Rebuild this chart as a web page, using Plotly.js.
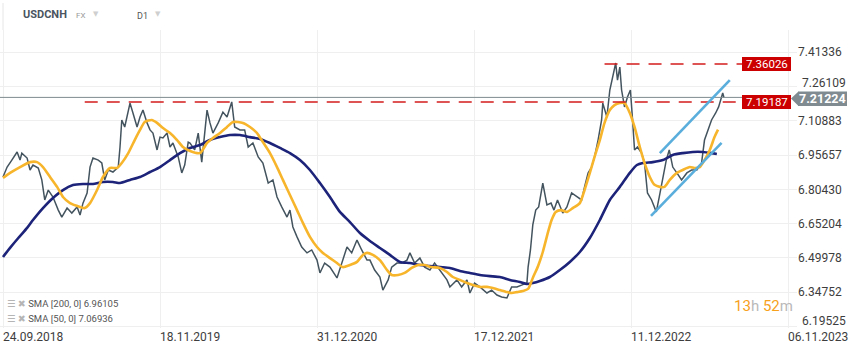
<!DOCTYPE html>
<html><head><meta charset="utf-8">
<script src="https://cdn.plot.ly/plotly-3.0.1.min.js"></script>
<style>html,body{margin:0;padding:0;background:#fff;} #chart{width:859px;height:352px;}</style>
</head><body><div id="chart"></div>
<script>
// ---- data (bar index = trading-day position on the chart) ----
const priceBars = [
0,7,15,24,29,32,41,46,51,60,
66,71,77,85,94,100,109,117,126,131,
136,143,148,153,162,168,173,179,187,196,
199,202,207,213,216,221,228,233,238,245,
250,255,262,267,272,279,284,289,298,304,
309,315,318,326,332,338,343,347,352,357,
366,374,381,386,389,394,403,411,417,425,
434,442,451,459,466,474,483,488,493,500,
508,517,525,534,539,547,556,568,576,585,
593,602,610,619,624,632,641,646,655,661,
670,678,687,692,700,709,717,726,734,743,
755,760,772,780,789,794,802,811,823,831,
840,848,857,865,874,882,891,893,897,901,
906,911,918,925,932,937,943,952,959,967,
976,984,989,995,1001,1006,1012,1018,1020,1027,
1032,1037,1042,1045,1049,1052,1057,1062,1067,1071,
1074,1079,1086,1091,1096,1103,1111,1116,1122,1128,
1133,1139,1146,1154,1163,1171,1180,1188,1193,1199,
1205,1212,1217,1224,1226];
const priceVals = [
6.859,6.903,6.934,6.970,6.934,6.965,6.943,6.890,6.912,6.899,
6.846,6.757,6.801,6.770,6.712,6.681,6.721,6.699,6.726,6.690,
6.743,6.788,6.903,6.943,6.934,6.921,6.846,6.890,6.881,6.903,
6.992,7.112,7.081,7.143,7.187,7.143,7.081,7.125,7.156,7.099,
7.068,7.054,6.979,7.036,7.032,7.054,6.992,7.010,6.948,6.877,
6.912,7.014,7.010,6.979,7.054,6.925,7.054,7.156,7.099,7.054,
7.099,7.147,7.125,7.170,7.192,7.081,7.068,7.068,6.992,7.010,
6.948,6.921,6.832,6.846,6.770,6.726,6.681,6.712,6.637,6.593,
6.548,6.522,6.535,6.490,6.433,6.477,6.459,6.411,6.477,6.548,
6.522,6.579,6.535,6.490,6.490,6.446,6.415,6.357,6.402,6.459,
6.477,6.477,6.490,6.522,6.477,6.499,6.459,6.446,6.477,6.446,
6.402,6.371,6.402,6.371,6.402,6.344,6.388,6.371,6.344,6.357,
6.335,6.326,6.322,6.371,6.371,6.379,6.388,6.459,6.535,6.646,
6.712,6.726,6.832,6.735,6.743,6.712,6.757,6.699,6.726,6.788,
6.770,6.757,6.815,6.877,6.903,6.948,7.023,7.112,7.187,7.125,
7.245,7.303,7.365,7.289,7.347,7.245,7.170,7.214,7.245,7.099,
6.979,6.992,6.965,6.921,6.788,6.757,6.704,6.770,6.846,6.934,
6.979,6.903,6.877,6.846,6.877,6.890,6.890,6.921,7.023,7.068,
7.112,7.143,7.170,7.232,7.212];

const sma50Bars = [
0,12,29,46,58,68,80,92,102,114,
131,139,148,160,170,182,194,202,213,224,
233,241,253,262,272,284,296,306,318,335,
347,357,369,381,391,408,420,432,442,454,
466,476,488,500,510,522,534,544,556,568,
578,590,602,612,619,629,641,653,661,672,
683,695,706,717,729,743,755,765,777,789,
799,811,823,833,845,857,865,874,884,893,
901,910,918,927,933,940,949,959,969,981,
989,998,1006,1015,1023,1032,1040,1049,1057,1066,
1074,1083,1091,1100,1108,1117,1125,1134,1146,1156,
1168,1176,1185,1193,1202,1210,1216];
const sma50Vals = [
6.855,6.877,6.903,6.925,6.925,6.903,6.859,6.815,6.770,6.743,
6.726,6.721,6.743,6.801,6.859,6.899,6.899,6.921,6.965,7.023,
7.068,7.103,7.112,7.099,7.076,7.054,7.023,6.992,6.974,6.965,
7.010,7.032,7.054,7.081,7.103,7.099,7.081,7.054,7.014,6.965,
6.903,6.846,6.779,6.712,6.655,6.593,6.548,6.522,6.499,6.477,
6.459,6.468,6.482,6.513,6.522,6.513,6.490,6.446,6.424,6.424,
6.433,6.455,6.468,6.468,6.459,6.455,6.437,6.415,6.402,6.388,
6.379,6.371,6.371,6.366,6.357,6.348,6.344,6.348,6.353,6.362,
6.411,6.464,6.526,6.615,6.668,6.704,6.712,6.704,6.721,6.743,
6.801,6.877,6.948,7.023,7.099,7.156,7.178,7.187,7.187,7.143,
7.081,6.992,6.921,6.859,6.824,6.815,6.815,6.846,6.877,6.890,
6.903,6.899,6.903,6.934,6.979,7.036,7.069];

const sma200Bars = [
0,12,26,41,51,68,85,102,119,136,
153,170,187,199,216,233,250,267,284,301,
318,335,352,369,386,403,420,437,454,471,
488,505,522,539,556,573,590,607,624,641,
658,675,692,709,726,743,760,777,794,811,
828,845,862,879,891,901,913,930,947,964,
981,998,1015,1032,1049,1066,1078,1088,1105,1122,
1139,1156,1173,1190,1205,1214];
const sma200Vals = [
6.504,6.544,6.588,6.633,6.668,6.721,6.766,6.801,6.823,6.828,
6.828,6.837,6.837,6.832,6.846,6.859,6.881,6.903,6.934,6.965,
6.988,7.001,7.023,7.036,7.045,7.045,7.036,7.028,7.010,6.988,
6.965,6.934,6.890,6.832,6.770,6.704,6.659,6.610,6.575,6.544,
6.513,6.482,6.477,6.468,6.464,6.459,6.455,6.442,6.433,6.424,
6.419,6.415,6.402,6.393,6.384,6.388,6.397,6.415,6.446,6.482,
6.526,6.588,6.668,6.757,6.815,6.877,6.912,6.921,6.925,6.934,
6.957,6.965,6.970,6.970,6.965,6.961];

const yTickVals = [6.19525,6.34752,6.49978,6.65204,6.80430,6.95657,7.10883,7.26109,7.41336];
const xTickBars = [0,267,534,801,1068,1335];
const xTickLabels = ['24.09.2018','18.11.2019','31.12.2020','17.12.2021','11.12.2022','06.11.2023'];
const levelVals = [7.36026, 7.19187];
const levelStartBars = [1023, 139];
const lastPrice = 7.21224;
const sma200Last = 6.96105;
const sma50Last = 7.06936;
const upperTrendBars = [1117, 1236];
const upperTrendVals = [6.965, 7.289];
const lowerTrendBars = [1102, 1222];
const lowerTrendVals = [6.686, 7.010];

// ---- layout helpers ----
const W = 859, H = 352, ML = 0, MR = 62, MT = 30, MB = 24;
const plotW = W - ML - MR, plotH = H - MT - MB;
const pxX = x => (x - ML) / plotW;          // pixel -> paper x
const pxY = y => (H - MB - y) / plotH;      // pixel -> paper y
const xRange = [-5.1, 1350.3];
const yRange = [6.18862, 7.51145];
const endBar = 1340;
const pxPerPrice = plotH / (yRange[1] - yRange[0]);
const halfBox = 7 / pxPerPrice;

const traces = [
  {x: priceBars, y: priceVals, type: 'scatter', mode: 'lines',
   line: {color: '#44545f', width: 1.5}},
  {x: sma200Bars, y: sma200Vals, type: 'scatter', mode: 'lines',
   line: {color: '#1c2379', width: 2.6, shape: 'spline', smoothing: 0.6}},
  {x: sma50Bars, y: sma50Vals, type: 'scatter', mode: 'lines',
   line: {color: '#f7b52c', width: 2.6, shape: 'spline', smoothing: 0.6}}
];

const shapes = [];
// header separator
shapes.push({type:'line', xref:'paper', yref:'paper', x0:pxX(3), x1:pxX(3), y0:pxY(3), y1:1, line:{color:'#e6e6e6', width:1}});
// gray last-price line
shapes.push({type:'line', xref:'x', yref:'y', x0:xRange[0], x1:endBar, y0:lastPrice, y1:lastPrice, line:{color:'#7f8b90', width:1}});
// resistance dashed lines
levelVals.forEach((v,i) => {
  shapes.push({type:'line', xref:'x', yref:'y', x0:levelStartBars[i], x1:endBar, y0:v, y1:v,
    line:{color:'#d31b1b', width:1.4, dash:'13px,9px'}});
});
// trend channel
shapes.push({type:'line', xref:'x', yref:'y', x0:upperTrendBars[0], x1:upperTrendBars[1], y0:upperTrendVals[0], y1:upperTrendVals[1], line:{color:'#5aaedc', width:2.6}});
shapes.push({type:'line', xref:'x', yref:'y', x0:lowerTrendBars[0], x1:lowerTrendBars[1], y0:lowerTrendVals[0], y1:lowerTrendVals[1], line:{color:'#5aaedc', width:2.6}});
// red level boxes
levelVals.forEach(v => {
  shapes.push({type:'rect', xref:'paper', yref:'y', x0:pxX(742), x1:pxX(791), y0:v-halfBox, y1:v+halfBox,
    fillcolor:'#cc0000', line:{width:0}});
});
// gray price box + arrow (slightly below the line, like the reference)
const gTop = 6 / pxPerPrice, gBot = 8.5 / pxPerPrice, gMid = 1.2 / pxPerPrice;
shapes.push({type:'rect', xref:'paper', yref:'y', x0:pxX(798), x1:pxX(847), y0:lastPrice-gBot, y1:lastPrice+gTop,
  fillcolor:'#7f8b90', line:{width:0}});
shapes.push({type:'path', xref:'paper', yref:'y',
  path:`M ${pxX(791)},${lastPrice-gMid} L ${pxX(798.5)},${lastPrice+gTop} L ${pxX(798.5)},${lastPrice-gBot} Z`,
  fillcolor:'#7f8b90', line:{width:0}});

const annotations = [];
levelVals.forEach(v => {
  annotations.push({xref:'paper', yref:'y', x:pxX(766.5), y:v, text:v.toFixed(5), showarrow:false,
    xanchor:'center', yanchor:'middle', font:{family:'Roboto, sans-serif', size:11.5, color:'#ffffff'}});
});
annotations.push({xref:'paper', yref:'y', x:pxX(822.5), y:lastPrice-gMid, text:'<b>'+lastPrice.toFixed(5)+'</b>', showarrow:false,
  xanchor:'center', yanchor:'middle', font:{family:'Roboto, sans-serif', size:12.5, color:'#ffffff'}});
// price-axis labels that sit off their grid line in the reference
annotations.push({xref:'paper', yref:'paper', x:pxX(800), y:pxY(321), text:yTickVals[0].toFixed(5), showarrow:false,
  xanchor:'left', yanchor:'middle', font:{family:'Roboto, sans-serif', size:12, color:'#3d3d3d'}});
annotations.push({xref:'paper', yref:'paper', x:pxX(800), y:pxY(83), text:yTickVals[7].toFixed(5), showarrow:false,
  xanchor:'left', yanchor:'middle', font:{family:'Roboto, sans-serif', size:12, color:'#3d3d3d'}});
// header
annotations.push({xref:'paper', yref:'paper', x:pxX(21), y:pxY(15), text:'<b>USDCNH</b>', showarrow:false, xanchor:'left', yanchor:'middle', font:{family:'Roboto, sans-serif', size:11, color:'#4a5561'}});
annotations.push({xref:'paper', yref:'paper', x:pxX(74), y:pxY(16), text:'FX', showarrow:false, xanchor:'left', yanchor:'middle', font:{family:'Roboto, sans-serif', size:8, color:'#9a9a9a'}});
annotations.push({xref:'paper', yref:'paper', x:pxX(91), y:pxY(14), text:'▼', showarrow:false, xanchor:'left', yanchor:'middle', font:{family:'DejaVu Sans, sans-serif', size:7, color:'#cfcfcf'}});
annotations.push({xref:'paper', yref:'paper', x:pxX(135), y:pxY(16), text:'D1', showarrow:false, xanchor:'left', yanchor:'middle', font:{family:'Roboto, sans-serif', size:9, color:'#555'}});
annotations.push({xref:'paper', yref:'paper', x:pxX(153), y:pxY(14), text:'▼', showarrow:false, xanchor:'left', yanchor:'middle', font:{family:'DejaVu Sans, sans-serif', size:7, color:'#cfcfcf'}});
// SMA legend
annotations.push({xref:'paper', yref:'paper', x:pxX(5), y:pxY(303), showarrow:false, xanchor:'left', yanchor:'middle',
  text:"<span style='color:#b5b5b5'>☰ ✖</span> SMA [200, 0] " + sma200Last.toFixed(5),
  font:{family:'Roboto, DejaVu Sans, sans-serif', size:9.5, color:'#555'}});
annotations.push({xref:'paper', yref:'paper', x:pxX(5), y:pxY(318), showarrow:false, xanchor:'left', yanchor:'middle',
  text:"<span style='color:#b5b5b5'>☰ ✖</span> SMA [50, 0] " + sma50Last.toFixed(5),
  font:{family:'Roboto, DejaVu Sans, sans-serif', size:9.5, color:'#555'}});
// countdown
annotations.push({xref:'paper', yref:'paper', x:pxX(732), y:pxY(306), showarrow:false, xanchor:'left', yanchor:'middle',
  text:"<span style='color:#f7a11c'>13</span><span style='color:#b9b9b9'>h</span> <span style='color:#f7a11c'>52</span><span style='color:#b9b9b9'>m</span>",
  font:{family:'Roboto, sans-serif', size:15}});

const layout = {
  width: W, height: H,
  margin: {l: ML, r: MR, t: MT, b: MB, pad: 0},
  paper_bgcolor: '#ffffff', plot_bgcolor: '#ffffff',
  showlegend: false,
  font: {family: 'Roboto, sans-serif', color: '#3d3d3d'},
  xaxis: {range: xRange, tickmode: 'array', tickvals: xTickBars, ticktext: xTickLabels,
    showgrid: true, gridcolor: '#efefef', gridwidth: 1, zeroline: false, showline: false, ticks: '',
    ticklabelposition: 'outside right', tickfont: {size: 12, color: '#3d3d3d'}},
  yaxis: {range: yRange, side: 'right', tickmode: 'array', tickvals: yTickVals,
    ticktext: yTickVals.map((v, i) => (i === 0 || i === 7) ? '' : v.toFixed(5)),
    showgrid: true, gridcolor: '#efefef', gridwidth: 1, zeroline: false, showline: false, ticks: '',
    tickfont: {size: 12, color: '#3d3d3d'}},
  shapes: shapes,
  annotations: annotations
};

Plotly.newPlot('chart', traces, layout, {staticPlot: true, displayModeBar: false});
</script>
</body></html>
